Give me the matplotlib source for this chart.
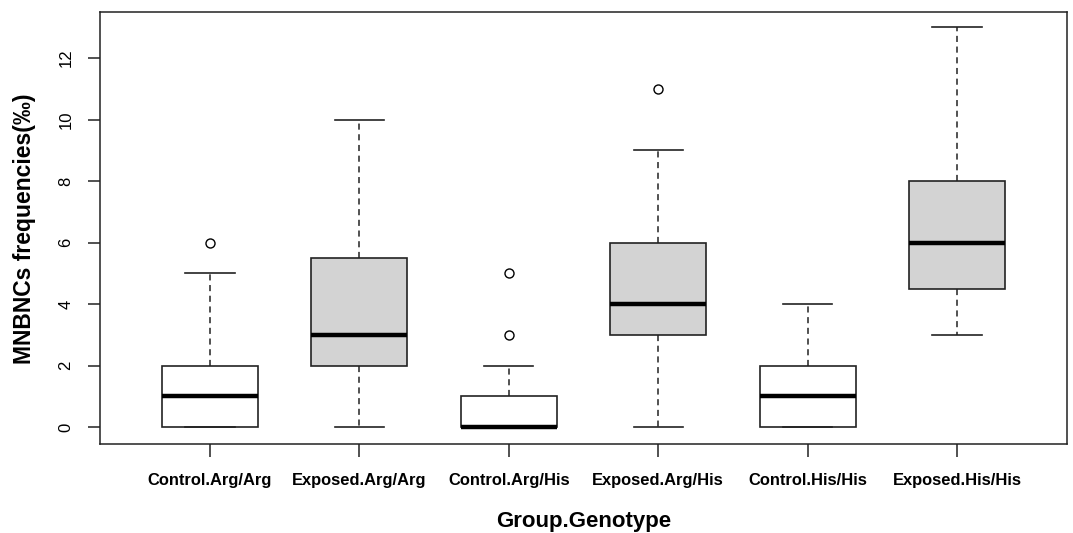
import matplotlib
matplotlib.use("Agg")
import matplotlib.pyplot as plt

categories = ["Control.Arg/Arg", "Exposed.Arg/Arg", "Control.Arg/His",
              "Exposed.Arg/His", "Control.His/His", "Exposed.His/His"]
whislo = [0, 0, 0, 0, 0, 3]
q1 = [0, 2, 0, 3, 0, 4.5]
med = [1, 3, 0, 4, 1, 6]
q3 = [2, 5.5, 1, 6, 2, 8]
whishi = [5, 10, 2, 9, 4, 13]
fliers = [[6], [], [3, 5], [11], [], []]
fills = ["white", "#d3d3d3", "white", "#d3d3d3", "white", "#d3d3d3"]
yticks = [0, 2, 4, 6, 8, 10, 12]

plt.rcParams['font.family'] = ['Liberation Sans', 'DejaVu Sans']

fig = plt.figure(figsize=(10.73, 5.33), dpi=100)
ax = fig.add_axes([100/1073, 1-444/533, 967/1073, 432/533])

stats = []
for i, c in enumerate(categories):
    stats.append(dict(label=c, whislo=whislo[i], q1=q1[i], med=med[i],
                      q3=q3[i], whishi=whishi[i], fliers=fliers[i]))

bp = ax.bxp(stats, positions=range(1, 7), widths=0.64, patch_artist=True,
            showfliers=True,
            boxprops=dict(edgecolor="#222222", linewidth=1.2),
            medianprops=dict(color="black", linewidth=3.2, solid_capstyle="butt"),
            whiskerprops=dict(color="#222222", linewidth=1.1, linestyle=(0, (4, 3))),
            capprops=dict(color="#222222", linewidth=1.2),
            flierprops=dict(marker="o", markerfacecolor="white",
                            markeredgecolor="black", markersize=6.5, markeredgewidth=1))
for patch, f in zip(bp["boxes"], fills):
    patch.set_facecolor(f)
for cap in bp["caps"]:
    x = cap.get_xdata()
    mid = (x[0] + x[1]) / 2
    cap.set_xdata([mid - 0.165, mid + 0.165])

ax.set_xlim(0.265, 6.735)
ax.set_ylim(-0.55, 13.5)
ax.set_yticks(yticks)
ax.set_yticklabels([str(v) for v in yticks], rotation=90, va="center", fontsize=12)
ax.set_xticks(range(1, 7))
ax.set_xticklabels(categories, fontsize=11.9, fontweight="bold")
ax.tick_params(axis="both", direction="out", length=9, width=1.1, color="#222222")
ax.tick_params(axis="x", pad=12)
ax.tick_params(axis="y", pad=10)
for s in ax.spines.values():
    s.set_linewidth(1.1)
    s.set_color("#222222")

fig.text(584/1073, 1 - 527/533, "Group.Genotype",
         fontsize=16, fontweight="bold", ha="center", va="baseline")
fig.text(25/1073, 1 - 229/533, "MNBNCs frequencies(‰)", rotation=90,
         fontsize=16.5, fontweight="bold", ha="center", va="center")

fig.savefig("out.png", dpi=100)
